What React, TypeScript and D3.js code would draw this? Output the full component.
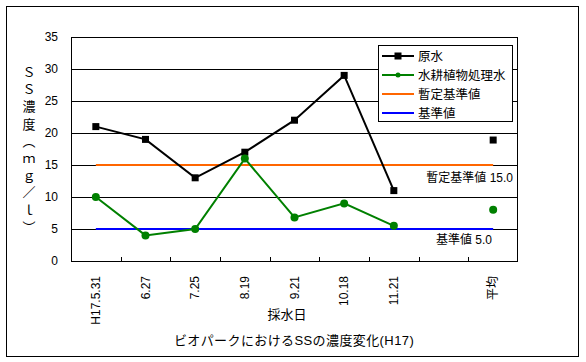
import React from 'react';
import * as d3 from 'd3';

const categories = ['H17.5.31', '6.27', '7.25', '8.19', '9.21', '10.18', '11.21', '', '平均'];
const rawWater = [21, 19, 13, 17, 22, 29, 11, null, 18.9];
const treatedWater = [10, 4, 5, 16, 6.8, 9, 5.5, null, 8.0];
const provisionalStandard = 15;
const standard = 5;
const yTicks = [0, 5, 10, 15, 20, 25, 30, 35];
const yTitle = ['Ｓ', 'Ｓ', '濃', '度', '︵', 'ｍ', 'ｇ', '／', 'ｌ', '︶'];

const W = 586;
const H = 362;
const font = "'Liberation Sans', 'Noto Sans CJK JP', sans-serif";

export default function App() {
  const x = d3.scaleBand<string>().domain(categories).range([71, 518]);
  const y = d3.scaleLinear().domain([0, 35]).range([261, 37]);
  const cx = (c: string) => (x(c) as number) + x.bandwidth() / 2;

  const line = d3.line<number | null>()
    .defined(d => d != null)
    .x((_, i) => cx(categories[i]))
    .y(d => y(d as number));

  const first = cx(categories[0]);
  const last = cx(categories[categories.length - 1]);

  const legend = [
    { name: '原水', color: '#000000', marker: 'square' },
    { name: '水耕植物処理水', color: '#008000', marker: 'circle' },
    { name: '暫定基準値', color: '#FF6600', marker: null },
    { name: '基準値', color: '#0000FF', marker: null },
  ];

  return (
    <svg width={W} height={H} style={{ position: 'absolute', left: 0, top: 0, background: '#fff' }}
      fontFamily={font}>
      <rect x={6.5} y={6.5} width={572} height={350} fill="#fff" stroke="#000" />

      {/* gridlines */}
      {yTicks.filter(t => t > 0).map(t => (
        <line key={t} x1={71} x2={518} y1={Math.round(y(t)) + 0.5} y2={Math.round(y(t)) + 0.5} stroke="#000" />
      ))}
      {/* plot frame */}
      <line x1={71.5} x2={71.5} y1={y(35)} y2={y(0)} stroke="#000" />
      <line x1={517.5} x2={517.5} y1={y(35)} y2={y(0)} stroke="#000" />
      <line x1={71} x2={518} y1={y(0) + 0.5} y2={y(0) + 0.5} stroke="#000" />
      {categories.map((c, i) => i > 0 && (
        <line key={'t' + i} x1={Math.round(x(c) as number) + 0.5} x2={Math.round(x(c) as number) + 0.5}
          y1={y(0) - 4} y2={y(0)} stroke="#000" />
      ))}

      {/* y tick labels */}
      {yTicks.map(t => (
        <text key={t} x={58} y={y(t)} dy="0.35em" textAnchor="end" fontSize={12}>{t}</text>
      ))}

      {/* y title */}
      <text fontSize={13} textAnchor="middle">
        {yTitle.map((ch, i) => (
          <tspan key={i} x={29} y={77 + i * 17.2}>{ch}</tspan>
        ))}
      </text>

      {/* x labels */}
      {categories.map((c, i) => (
        <text key={'x' + i} transform={`translate(${cx(c) + 4},276) rotate(-90)`} textAnchor="end"
          fontSize={12}>{c}</text>
      ))}
      <text x={287} y={319} textAnchor="middle" fontSize={13}>採水日</text>
      <text x={294} y={345} textAnchor="middle" fontSize={13} letterSpacing={0.4}>ビオパークにおけるSSの濃度変化(H17)</text>

      {/* standard lines */}
      <line x1={first} x2={last} y1={y(provisionalStandard)} y2={y(provisionalStandard)} stroke="#FF6600" strokeWidth={2} />
      <line x1={first} x2={last} y1={y(standard)} y2={y(standard)} stroke="#0000FF" strokeWidth={2} />
      <text x={513} y={182} textAnchor="end" fontSize={12}>暫定基準値 {provisionalStandard.toFixed(1)}</text>
      <text x={492} y={244} textAnchor="end" fontSize={12}>基準値 {standard.toFixed(1)}</text>

      {/* series */}
      <path d={line(rawWater) || ''} fill="none" stroke="#000" strokeWidth={2} />
      {rawWater.map((v, i) => v != null && (
        <rect key={'r' + i} x={cx(categories[i]) - 3.5} y={y(v) - 3.5} width={7} height={7} fill="#000" />
      ))}
      <path d={line(treatedWater) || ''} fill="none" stroke="#008000" strokeWidth={2} />
      {treatedWater.map((v, i) => v != null && (
        <circle key={'g' + i} cx={cx(categories[i])} cy={y(v)} r={4} fill="#008000" />
      ))}

      {/* legend */}
      <rect x={378.5} y={45.5} width={134} height={76} fill="#fff" stroke="#000" />
      {legend.map((l, i) => {
        const ly = 56 + i * 19;
        return (
          <g key={l.name}>
            <line x1={382} x2={414} y1={ly} y2={ly} stroke={l.color} strokeWidth={2} />
            {l.marker === 'square' && <rect x={394.5} y={ly - 3.5} width={7} height={7} fill={l.color} />}
            {l.marker === 'circle' && <circle cx={398} cy={ly} r={2.5} fill={l.color} />}
            <text x={418} y={ly} dy="0.38em" fontSize={12.5}>{l.name}</text>
          </g>
        );
      })}
    </svg>
  );
}
